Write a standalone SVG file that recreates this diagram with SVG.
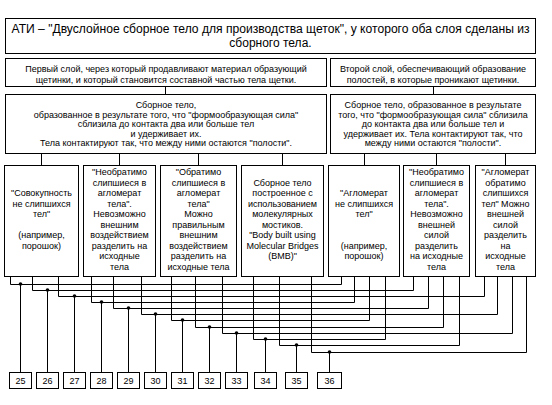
<svg xmlns="http://www.w3.org/2000/svg" width="552" height="405" viewBox="0 0 552 405">
<style>
.b{fill:#fff;stroke:#000;stroke-width:1}
.t{font-family:"Liberation Sans",Arial,sans-serif;font-size:9px;fill:#000;text-anchor:middle}
.tt{font-family:"Liberation Sans",Arial,sans-serif;font-size:12px;fill:#000;text-anchor:middle}
.c{fill:none;stroke:#000;stroke-width:1}
.d{fill:#000}
</style>
<rect width="552" height="405" fill="#fff"/>
<g id="title">
<rect class="b" x="5.5" y="18.5" width="530" height="35"/>
<text class="tt" x="270.5" y="32.5" textLength="518" lengthAdjust="spacingAndGlyphs">АТИ – "Двуслойное сборное тело для производства щеток", у которого оба слоя сделаны из</text>
<text class="tt" x="270.5" y="47">сборного тела.</text>
</g>
<g id="layer1">
<rect class="b" x="5.5" y="58.5" width="321" height="28"/>
<text class="t" x="166" y="72">Первый слой, через который продавливают материал образующий</text>
<text class="t" x="166" y="82.5">щетинки, и который становится составной частью тела щетки.</text>
</g>
<g id="layer2">
<rect class="b" x="330.5" y="58.5" width="205" height="28"/>
<text class="t" x="433" y="72">Второй слой, обеспечивающий образование</text>
<text class="t" x="433" y="82.5">полостей, в которые проникают щетинки.</text>
</g>
<g id="assembled1">
<rect class="b" x="5.5" y="94.5" width="321" height="59"/>
<text class="t" x="166" y="108">Сборное тело,</text>
<text class="t" x="166" y="117.5">образованное в результате того, что "формообразующая сила"</text>
<text class="t" x="166" y="127">сблизила до контакта два или больше тел</text>
<text class="t" x="166" y="136.5">и удерживает их.</text>
<text class="t" x="166" y="146">Тела контактируют так, что между ними остаются "полости".</text>
</g>
<g id="assembled2">
<rect class="b" x="330.5" y="94.5" width="205" height="59"/>
<text class="t" x="433" y="108">Сборное тело, образованное в результате</text>
<text class="t" x="433" y="117.5">того, что "формообразующая сила" сблизила</text>
<text class="t" x="433" y="127">до контакта два или больше тел и</text>
<text class="t" x="433" y="136.5">удерживает их. Тела контактируют так, что</text>
<text class="t" x="433" y="146">между ними остаются "полости".</text>
</g>
<g id="boxA">
<rect class="b" x="4.5" y="165.5" width="74" height="111"/>
<text class="t" x="41.5" y="196">"Совокупность</text>
<text class="t" x="41.5" y="206.5">не слипшихся</text>
<text class="t" x="41.5" y="217">тел"</text>
<text class="t" x="41.5" y="238">(например,</text>
<text class="t" x="41.5" y="248.5">порошок)</text>
</g>
<g id="boxB">
<rect class="b" x="83.5" y="165.5" width="72" height="111"/>
<text class="t" x="119.5" y="175">"Необратимо</text>
<text class="t" x="119.5" y="185.5">слипшиеся в</text>
<text class="t" x="119.5" y="196">агломерат</text>
<text class="t" x="119.5" y="206.5">тела".</text>
<text class="t" x="119.5" y="217">Невозможно</text>
<text class="t" x="119.5" y="227.5">внешним</text>
<text class="t" x="119.5" y="238">воздействием</text>
<text class="t" x="119.5" y="248.5">разделить на</text>
<text class="t" x="119.5" y="259">исходные</text>
<text class="t" x="119.5" y="269.5">тела</text>
</g>
<g id="boxC">
<rect class="b" x="160.5" y="165.5" width="76" height="111"/>
<text class="t" x="198.5" y="175">"Обратимо</text>
<text class="t" x="198.5" y="185.5">слипшиеся в</text>
<text class="t" x="198.5" y="196">агломерат</text>
<text class="t" x="198.5" y="206.5">тела"</text>
<text class="t" x="198.5" y="217">Можно</text>
<text class="t" x="198.5" y="227.5">правильным</text>
<text class="t" x="198.5" y="238">внешним</text>
<text class="t" x="198.5" y="248.5">воздействием</text>
<text class="t" x="198.5" y="259">разделить на</text>
<text class="t" x="198.5" y="269.5">исходные тела</text>
</g>
<g id="boxD">
<rect class="b" x="241.5" y="165.5" width="82" height="111"/>
<text class="t" x="282.5" y="185.5">Сборное тело</text>
<text class="t" x="282.5" y="196">построенное с</text>
<text class="t" x="282.5" y="206.5">использованием</text>
<text class="t" x="282.5" y="217">молекулярных</text>
<text class="t" x="282.5" y="227.5">мостиков.</text>
<text class="t" x="282.5" y="238">"Body built using</text>
<text class="t" x="282.5" y="248.5">Molecular Bridges</text>
<text class="t" x="282.5" y="259">(BMB)"</text>
</g>
<g id="boxE">
<rect class="b" x="328.5" y="165.5" width="71" height="111"/>
<text class="t" x="364" y="196">"Агломерат</text>
<text class="t" x="364" y="206.5">не слипшихся</text>
<text class="t" x="364" y="217">тел"</text>
<text class="t" x="364" y="248.5">(например,</text>
<text class="t" x="364" y="259">порошок)</text>
</g>
<g id="boxF">
<rect class="b" x="403.5" y="165.5" width="66" height="111"/>
<text class="t" x="436.5" y="175">"Необратимо</text>
<text class="t" x="436.5" y="185.5">слипшиеся в</text>
<text class="t" x="436.5" y="196">агломерат</text>
<text class="t" x="436.5" y="206.5">тела".</text>
<text class="t" x="436.5" y="217">Невозможно</text>
<text class="t" x="436.5" y="227.5">внешней</text>
<text class="t" x="436.5" y="238">силой</text>
<text class="t" x="436.5" y="248.5">разделить</text>
<text class="t" x="436.5" y="259">на исходные</text>
<text class="t" x="436.5" y="269.5">тела</text>
</g>
<g id="boxG">
<rect class="b" x="475.5" y="165.5" width="60" height="111"/>
<text class="t" x="505.5" y="175">"Агломерат</text>
<text class="t" x="505.5" y="185.5">обратимо</text>
<text class="t" x="505.5" y="196">слипшихся</text>
<text class="t" x="505.5" y="206.5">тел" Можно</text>
<text class="t" x="505.5" y="217">внешней</text>
<text class="t" x="505.5" y="227.5">силой</text>
<text class="t" x="505.5" y="238">разделить</text>
<text class="t" x="505.5" y="248.5">на</text>
<text class="t" x="505.5" y="259">исходные</text>
<text class="t" x="505.5" y="269.5">тела</text>
</g>
<g id="connectors">
<path class="c" d="M165.5 86.5V94.5M433.5 86.5V94.5M41.5 153.5V165.5M119.5 153.5V165.5M198.5 153.5V165.5M282.5 153.5V165.5M364.5 153.5V165.5M436.5 153.5V165.5M505.5 153.5V165.5"/>
<path class="c" d="M10.5 276.5V284.5H341.5V276.5"/>
<path class="c" d="M32.5 276.5V290.5H413.5V276.5"/>
<path class="c" d="M58.5 276.5V296.5H484.5V276.5"/>
<path class="c" d="M91.5 276.5V302.5H354.5V276.5"/>
<path class="c" d="M113.5 276.5V308.5H428.5V276.5"/>
<path class="c" d="M141.5 276.5V314.5H497.5V276.5"/>
<path class="c" d="M171.5 276.5V320.5H369.5V276.5"/>
<path class="c" d="M195.5 276.5V327.5H443.5V276.5"/>
<path class="c" d="M222.5 276.5V333.5H512.5V276.5"/>
<path class="c" d="M253.5 276.5V339.5H385.5V276.5"/>
<path class="c" d="M279.5 276.5V345.5H459.5V276.5"/>
<path class="c" d="M311.5 276.5V352.5H526.5V276.5"/>
<path class="c" d="M20.5 284.5V372.5M47.5 290.5V372.5M74.5 296.5V372.5M101.5 302.5V372.5M128.5 308.5V372.5M155.5 314.5V372.5M182.5 320.5V372.5M209.5 327.5V372.5M236.5 333.5V372.5M265.5 339.5V372.5M296.5 345.5V372.5M329.5 352.5V372.5"/>
<g class="d">
<circle cx="20.5" cy="284" r="1.8"/><circle cx="47.5" cy="290" r="1.8"/><circle cx="74.5" cy="296" r="1.8"/><circle cx="101.5" cy="302" r="1.8"/><circle cx="128.5" cy="308" r="1.8"/><circle cx="155.5" cy="314" r="1.8"/><circle cx="182.5" cy="320" r="1.8"/><circle cx="209.5" cy="327" r="1.8"/><circle cx="236.5" cy="333" r="1.8"/><circle cx="265.5" cy="339" r="1.8"/><circle cx="296.5" cy="345" r="1.8"/><circle cx="329.5" cy="352" r="1.8"/>
</g>
</g>
<g id="n25"><rect class="b" x="9.5" y="372.5" width="22" height="16"/><text class="t" x="20.5" y="384">25</text></g>
<g id="n26"><rect class="b" x="36.5" y="372.5" width="22" height="16"/><text class="t" x="47.5" y="384">26</text></g>
<g id="n27"><rect class="b" x="63.5" y="372.5" width="22" height="16"/><text class="t" x="74.5" y="384">27</text></g>
<g id="n28"><rect class="b" x="90.5" y="372.5" width="22" height="16"/><text class="t" x="101.5" y="384">28</text></g>
<g id="n29"><rect class="b" x="117.5" y="372.5" width="22" height="16"/><text class="t" x="128.5" y="384">29</text></g>
<g id="n30"><rect class="b" x="144.5" y="372.5" width="22" height="16"/><text class="t" x="155.5" y="384">30</text></g>
<g id="n31"><rect class="b" x="171.5" y="372.5" width="22" height="16"/><text class="t" x="182.5" y="384">31</text></g>
<g id="n32"><rect class="b" x="198.5" y="372.5" width="22" height="16"/><text class="t" x="209.5" y="384">32</text></g>
<g id="n33"><rect class="b" x="225.5" y="372.5" width="22" height="16"/><text class="t" x="236.5" y="384">33</text></g>
<g id="n34"><rect class="b" x="254.5" y="372.5" width="22" height="16"/><text class="t" x="265.5" y="384">34</text></g>
<g id="n35"><rect class="b" x="285.5" y="372.5" width="22" height="16"/><text class="t" x="296.5" y="384">35</text></g>
<g id="n36"><rect class="b" x="317.5" y="372.5" width="24" height="16"/><text class="t" x="329.5" y="384">36</text></g>
</svg>
